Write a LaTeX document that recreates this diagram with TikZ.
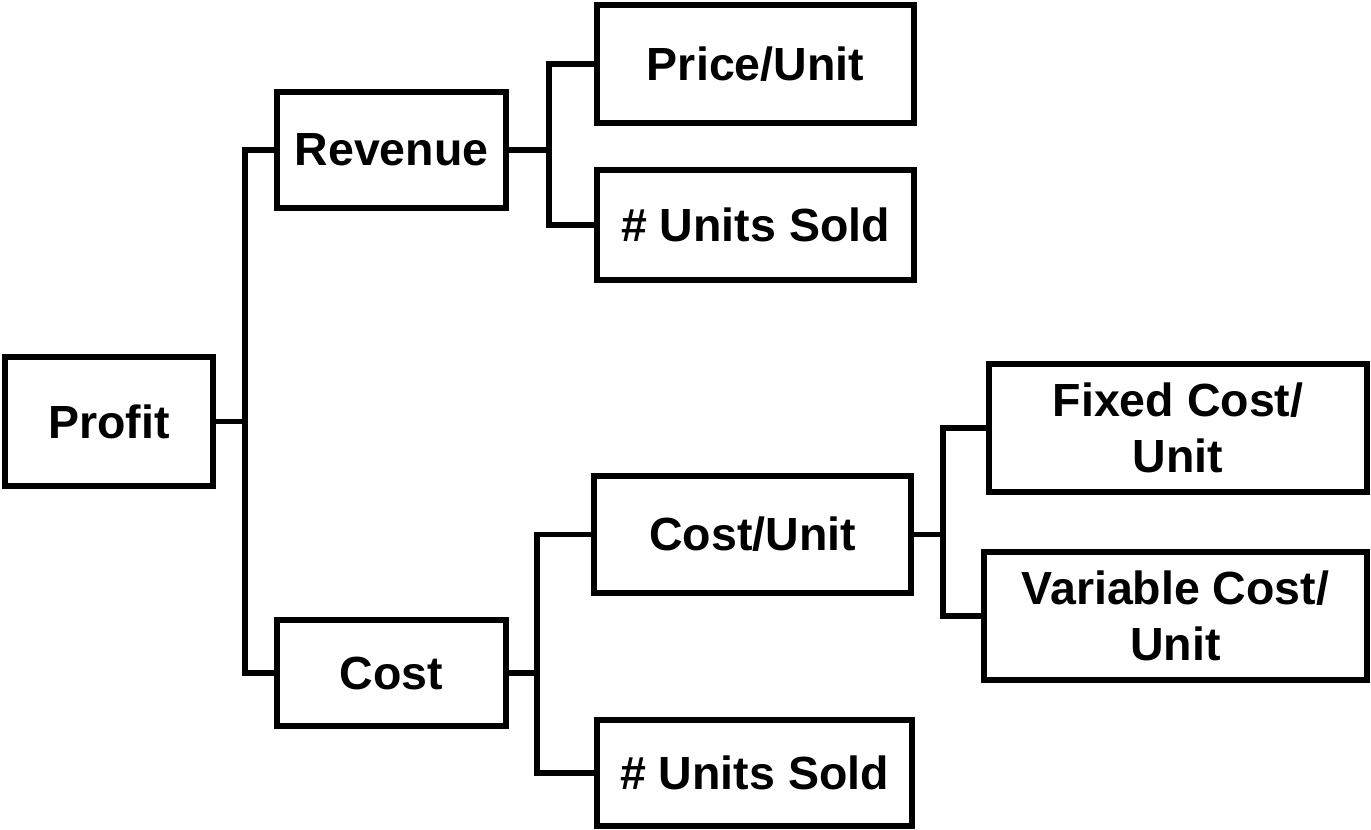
\documentclass[tikz,border=0pt]{standalone}
\usepackage{fontspec}
\setmainfont{Liberation Sans}
\begin{document}
\begin{tikzpicture}[x=1pt,y=-1pt,
  box/.style={draw=black, line width=5.5pt, fill=white, inner sep=0pt, align=center,
    font=\fontsize{46.5}{56}\selectfont\bfseries},
  link/.style={draw=black, line width=5.5pt}]
\useasboundingbox (0,0) rectangle (1371,830);
\node[box, minimum width=208pt, minimum height=129pt] (profit) at (109,421.5) {Profit};
\node[box, minimum width=229pt, minimum height=116pt] (revenue) at (391.5,150) {Revenue};
\node[box, minimum width=229pt, minimum height=106pt] (cost) at (391.5,673) {Cost};
\node[box, minimum width=317pt, minimum height=118pt] (price) at (755.5,64) {Price/Unit};
\node[box, minimum width=317pt, minimum height=110pt] (units1) at (755.5,225) {\# Units Sold};
\node[box, minimum width=317pt, minimum height=117pt] (costunit) at (752.5,534.5) {Cost/Unit};
\node[box, minimum width=315pt, minimum height=106pt] (units2) at (754.5,773) {\# Units Sold};
\node[box, minimum width=378pt, minimum height=128pt] (fixed) at (1178,428) {Fixed Cost/\\Unit};
\node[box, minimum width=383pt, minimum height=128pt] (variable) at (1175.5,616) {Variable Cost/\\Unit};
\coordinate (j1) at (245,421.5);
\coordinate (j2) at (549,150);
\coordinate (j3) at (537,673);
\coordinate (j4) at (943,534.5);
\draw[link] (profit.east) -- (j1);
\draw[link] (revenue.west) -| (j1) |- (cost.west);
\draw[link] (revenue.east) -- (j2);
\draw[link] (price.west) -| (j2) |- (units1.west);
\draw[link] (cost.east) -- (j3);
\draw[link] (costunit.west) -| (j3) |- (units2.west);
\draw[link] (costunit.east) -- (j4);
\draw[link] (fixed.west) -| (j4) |- (variable.west);
\end{tikzpicture}
\end{document}
